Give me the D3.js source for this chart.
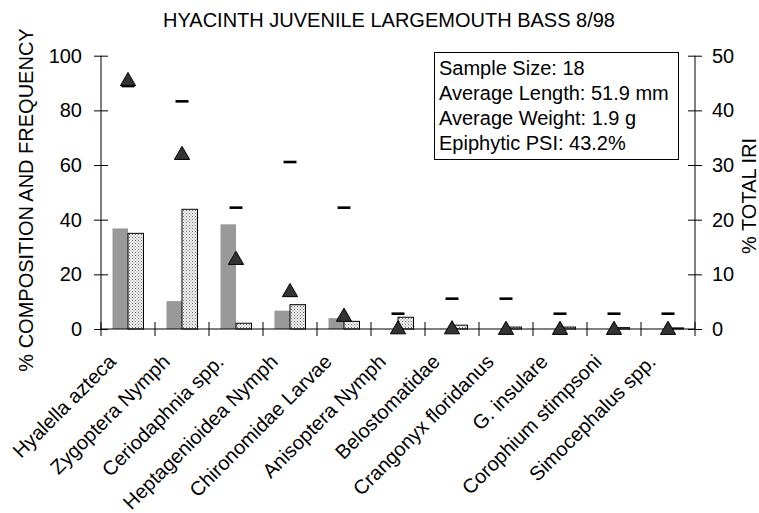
<!DOCTYPE html>
<html>
<head>
<meta charset="utf-8">
<script src="https://cdn.jsdelivr.net/npm/d3@7"></script>
<style>
  html, body { margin: 0; padding: 0; background: #fff; }
  svg { display: block; font-family: "Liberation Sans", Arial, sans-serif; }
  text { fill: #000; }
</style>
</head>
<body>
<svg id="chart" width="759" height="513"></svg>
<script>
// Prey items in the diet
const categories = [
  "Hyalella azteca", "Zygoptera Nymph", "Ceriodaphnia spp.", "Heptagenioidea Nymph",
  "Chironomidae Larvae", "Anisoptera Nymph", "Belostomatidae", "Crangonyx floridanus",
  "G. insulare", "Corophium stimpsoni", "Simocephalus spp."
];
// % composition by number (solid grey bars)
const pctNumber = [36.8, 10.2, 38.3, 6.7, 4.0, 0, 0, 0, 0, 0, 0];
// % composition by weight (stippled bars)
const pctWeight = [35.0, 43.8, 2.1, 8.9, 2.8, 4.3, 1.4, 0.7, 0.7, 0.5, 0.4];
// % frequency of occurrence (dashes, left axis)
const freqOccurrence = [88.9, 83.3, 44.4, 61.1, 44.4, 5.6, 11.1, 11.1, 5.6, 5.6, 5.6];
// % of total IRI (triangles, right axis)
const totalIRI = [45.5, 32.0, 12.8, 6.9, 2.4, 0.1, 0.1, 0, 0, 0, 0];

const leftTicks = [0, 20, 40, 60, 80, 100];
const rightTicks = [0, 10, 20, 30, 40, 50];

const infoLines = [
  "Sample Size: 18",
  "Average Length: 51.9 mm",
  "Average Weight: 1.9 g",
  "Epiphytic PSI: 43.2%"
];
const title = "HYACINTH JUVENILE LARGEMOUTH BASS 8/98";

const svg = d3.select("#chart");
const FS = 20;

const plot = { left: 101, right: 695, top: 55.7, bottom: 329 };

const x = d3.scaleBand().domain(categories).range([plot.left, plot.right]).padding(0);
const sub = d3.scaleBand().domain(["number", "weight"])
  .range([x.bandwidth() * 0.213, x.bandwidth() * 0.787]).padding(0);
const yL = d3.scaleLinear().domain([0, 100]).range([plot.bottom, plot.top]);
const yR = d3.scaleLinear().domain([0, 50]).range([plot.bottom, plot.top]);

// stipple fill
const defs = svg.append("defs");
const pat = defs.append("pattern").attr("id", "stipple")
  .attr("patternUnits", "userSpaceOnUse").attr("width", 3).attr("height", 3);
pat.append("rect").attr("width", 3).attr("height", 3).attr("fill", "#f4f4f4");
pat.append("rect").attr("x", 0).attr("y", 0).attr("width", 1).attr("height", 1).attr("fill", "#6a6a6a");
pat.append("rect").attr("x", 1.5).attr("y", 1.5).attr("width", 1).attr("height", 1).attr("fill", "#8a8a8a");

// title
svg.append("text")
  .attr("x", 389).attr("y", 27)
  .attr("text-anchor", "middle")
  .attr("font-size", FS)
  .text(title);

// bars
const barG = svg.append("g");
barG.selectAll("rect.num").data(categories).join("rect")
  .attr("class", "num")
  .attr("x", d => x(d) + sub("number"))
  .attr("width", sub.bandwidth())
  .attr("y", (d, i) => yL(pctNumber[i]))
  .attr("height", (d, i) => yL(0) - yL(pctNumber[i]))
  .attr("fill", "#999999");

barG.selectAll("rect.wt").data(categories).join("rect")
  .attr("class", "wt")
  .attr("x", d => x(d) + sub("weight"))
  .attr("width", sub.bandwidth())
  .attr("y", (d, i) => yL(pctWeight[i]))
  .attr("height", (d, i) => yL(0) - yL(pctWeight[i]))
  .attr("fill", "url(#stipple)")
  .attr("stroke", "#000")
  .attr("stroke-width", 1);

// left axis
const axL = svg.append("g").attr("transform", `translate(${plot.left},0)`)
  .call(d3.axisLeft(yL).tickValues(leftTicks).tickSize(7).tickPadding(12).tickFormat(d3.format("d")));
axL.selectAll(".tick line").attr("x1", -7).attr("x2", 7).attr("stroke", "#000");
axL.select(".domain").attr("d", `M0,${plot.top}V${plot.bottom}`).attr("stroke", "#000");
axL.selectAll("text").attr("font-size", FS).attr("font-family", "Liberation Sans, Arial, sans-serif").attr("fill", "#000");

// right axis
const axR = svg.append("g").attr("transform", `translate(${plot.right},0)`)
  .call(d3.axisRight(yR).tickValues(rightTicks).tickSize(7).tickPadding(10).tickFormat(d3.format("d")));
axR.selectAll(".tick line").attr("x1", -7).attr("x2", 7).attr("stroke", "#000");
axR.select(".domain").attr("d", `M0,${plot.top}V${plot.bottom}`).attr("stroke", "#000");
axR.selectAll("text").attr("font-size", FS).attr("font-family", "Liberation Sans, Arial, sans-serif").attr("fill", "#000");

// category axis: baseline and ticks on band boundaries
const boundaries = categories.map(c => x(c)).concat([x(categories[categories.length - 1]) + x.bandwidth()]);
const axX = svg.append("g");
axX.append("line")
  .attr("x1", plot.left).attr("x2", plot.right)
  .attr("y1", yL(0)).attr("y2", yL(0))
  .attr("stroke", "#000");
axX.selectAll("line.tk").data(boundaries).join("line")
  .attr("class", "tk")
  .attr("x1", d => d).attr("x2", d => d)
  .attr("y1", yL(0) - 7).attr("y2", yL(0) + 7)
  .attr("stroke", "#000");

// category labels
axX.selectAll("text").data(categories).join("text")
  .attr("transform", d => `translate(${x(d) + x.bandwidth() / 2 - 11},${363}) rotate(-45)`)
  .attr("text-anchor", "end")
  .attr("font-size", FS)
  .text(d => d);

// frequency dashes
svg.append("g").selectAll("line").data(categories).join("line")
  .attr("x1", d => x(d) + x.bandwidth() / 2 - 6.5)
  .attr("x2", d => x(d) + x.bandwidth() / 2 + 6.5)
  .attr("y1", (d, i) => yL(freqOccurrence[i]))
  .attr("y2", (d, i) => yL(freqOccurrence[i]))
  .attr("stroke", "#000")
  .attr("stroke-width", 2.6);

// IRI triangles
const tri = d3.symbol().type(d3.symbolTriangle).size(100);
svg.append("g").selectAll("path").data(categories).join("path")
  .attr("d", tri)
  .attr("transform", (d, i) => `translate(${x(d) + x.bandwidth() / 2},${yR(totalIRI[i]) + 1})`)
  .attr("fill", "#333333")
  .attr("stroke", "#000")
  .attr("stroke-width", 1);

// axis titles
svg.append("text")
  .attr("transform", "translate(33,200) rotate(-90)")
  .attr("text-anchor", "middle")
  .attr("font-size", FS)
  .text("% COMPOSITION AND FREQUENCY");

svg.append("text")
  .attr("transform", "translate(756,196) rotate(-90)")
  .attr("text-anchor", "middle")
  .attr("font-size", FS)
  .text("% TOTAL IRI");

// info box
const box = svg.append("g");
box.append("rect")
  .attr("x", 434.5).attr("y", 52.5)
  .attr("width", 244).attr("height", 107)
  .attr("fill", "#fff").attr("stroke", "#000").attr("stroke-width", 1);
box.selectAll("text").data(infoLines).join("text")
  .attr("x", 439)
  .attr("y", (d, i) => 75 + i * 25)
  .attr("font-size", FS)
  .text(d => d);
</script>
</body>
</html>
